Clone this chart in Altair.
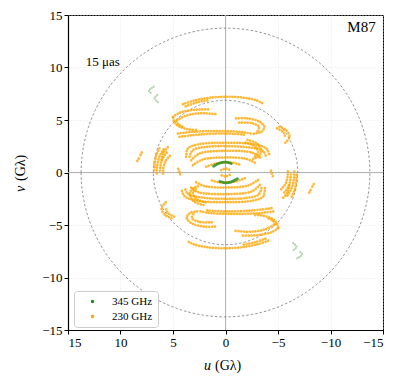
import altair as alt
import pandas as pd
import numpy as np

# ---------------- data (Gλ) ----------------
TICKS = [-15, -10, -5, 0, 5, 10, 15]
BANDS = ["345 GHz", "230 GHz"]
COLORS = ["#1f8a1f", "#FFA500"]

# upper-half uv tracks; each is also drawn with its conjugate (-u, -v)
TRACKS_230 = {
    "top1": [(4.06, 6.5), (3.0, 6.85), (1.8, 7.08), (0.5, 7.2), (-0.8, 7.2), (-2.0, 7.08), (-3.0, 6.85), (-3.5, 6.6)],
    "top2": [(3.8, 6.3), (2.7, 6.68), (1.5, 6.9)],
    "ul1": [(5.0, 5.3), (4.4, 5.68), (3.5, 5.9), (2.5, 6.0), (1.5, 6.0)],
    "ul2": [(5.0, 5.22), (4.85, 4.75), (4.4, 4.38), (3.6, 4.12), (2.8, 4.05)],
    "ul3": [(4.6, 5.0), (3.8, 5.4), (2.9, 5.6), (2.0, 5.65), (0.9, 5.55)],
    "ul4": [(4.7, 4.9), (4.45, 4.55), (3.9, 4.3)],
    "ur1": [(-1.0, 5.15), (-2.1, 5.15), (-3.2, 4.85), (-3.7, 4.35), (-3.4, 3.87), (-2.6, 3.7)],
    "ur2": [(-1.3, 4.75), (-2.5, 4.7), (-3.2, 4.35), (-3.05, 3.95)],
    "ur3": [(-2.1, 3.1), (-3.05, 2.72), (-3.4, 1.97), (-3.08, 1.5), (-2.45, 1.24)],
    "ur4": [(-1.9, 2.85), (-2.8, 2.5), (-3.1, 1.9), (-2.8, 1.52)],
    "right1": [(-5.14, 4.35), (-5.78, 4.03), (-6.1, 3.4), (-5.62, 2.76)],
    "right2": [(-4.9, 4.2), (-5.5, 3.85), (-5.7, 3.3)],
    "mid1": [(4.54, 3.71), (3.11, 3.87), (1.52, 3.94), (0.0, 3.94), (-1.65, 3.84), (-2.6, 3.65)],
    "mid2": [(4.38, 3.4), (2.48, 3.62), (0.0, 3.71), (-1.97, 3.59)],
    "cup1": [(3.75, 1.49), (3.59, 2.29), (2.48, 2.70), (0.0, 2.83), (-2.6, 2.70), (-3.87, 2.29), (-4.19, 1.65)],
    "cup2": [(3.43, 1.49), (3.11, 2.13), (1.84, 2.44), (0.0, 2.51), (-2.29, 2.38), (-3.56, 2.06), (-3.87, 1.49)],
    "cup3": [(3.27, 1.17), (2.48, 1.81), (0.0, 2.06), (-2.6, 1.87), (-3.4, 1.33)],
    "in1": [(3.11, 0.70), (2.16, 1.24), (0.0, 1.43), (-1.97, 1.30), (-2.92, 0.86)],
    "in2": [(1.84, 0.54), (0.89, 0.86), (-0.7, 0.92), (-1.49, 0.70)],
    "c0": [(0.41, 0.22), (0.0, 0.38), (-0.44, 0.22)],
    "lp": [(4.5, 0.35), (4.38, 0.0), (4.3, -0.3)],
    "lc1": [(6.3, 2.3), (6.6, 1.6), (6.75, 0.8), (6.8, 0.0)],
    "lc2": [(5.9, 2.2), (6.3, 1.5), (6.5, 0.7), (6.55, -0.1)],
    "lc3": [(5.6, 1.9), (6.0, 1.3), (6.2, 0.6), (6.25, 0.0)],
    "lc4": [(5.3, 1.6), (5.7, 1.1), (5.9, 0.5), (5.95, -0.2)],
    "lc5": [(5.5, 2.4), (5.9, 1.9), (6.1, 1.2)],
    "dash1": [(8.41, 1.1), (8.22, 1.41)],
    "dash2": [(8.1, 1.67), (7.9, 2.05)],
}
TRACKS_345 = {
    "g_in": [(1.14, 0.6), (0.57, 0.89), (0.0, 0.98), (-0.54, 0.86)],
}
TRACKS_345_FAINT = {
    "g_out1": [(6.83, 8.17), (7.3, 7.79), (6.98, 7.48)],
    "g_out2": [(6.5, 7.38), (6.76, 7.07), (6.29, 6.59)],
}

CIRCLE_UAS = [15, 30]          # fringe spacings drawn as dashed circles
LABELS_LEFT = [("15 μas", 13.3, 10.5)]
LABELS_RIGHT = [("M87", -14.3, 13.9)]


def build(tracks, band):
    rows = []
    for name, pts in tracks.items():
        for sign, suffix in ((1, ""), (-1, "_c")):
            for i, (u, v) in enumerate(pts):
                rows.append({"track": name + suffix, "band": band, "i": i,
                             "u": sign * u, "v": sign * v})
    return pd.DataFrame(rows)


df230 = build(TRACKS_230, "230 GHz")
df345 = build(TRACKS_345, "345 GHz")
df345f = build(TRACKS_345_FAINT, "345 GHz")

# reference circles: radius = 1/θ in Gλ
crow = []
t = np.linspace(0, 2 * np.pi, 241)
for uas in CIRCLE_UAS:
    r = 1.0 / (uas * 1e-6 / 3600 * np.pi / 180) / 1e9
    for k, a in enumerate(t):
        crow.append({"c": str(uas), "k": k, "u": r * np.cos(a), "v": r * np.sin(a)})
dfc = pd.DataFrame(crow)

labL = pd.DataFrame(LABELS_LEFT, columns=["text", "u", "v"])
labR = pd.DataFrame(LABELS_RIGHT, columns=["text", "u", "v"])
legdf = pd.DataFrame({"band": BANDS, "u": [0.0, 0.0], "v": [0.0, 0.0]})

FONT = "Liberation Serif"
W = H = 315
xs = alt.Scale(domain=[15, -15], nice=False, zero=False)
ys = alt.Scale(domain=[-15, 15], nice=False, zero=False)
cs = alt.Scale(domain=BANDS, range=COLORS)

X = alt.X("u:Q", scale=xs, axis=alt.Axis(values=TICKS, title=None, labelFont=FONT))
Y = alt.Y("v:Q", scale=ys, axis=alt.Axis(values=TICKS, title=None, labelFont=FONT))

zero_v = alt.Chart(pd.DataFrame({"u": [0]})).mark_rule(color="#b5b5b5", strokeWidth=1).encode(x=alt.X("u:Q", scale=xs))
zero_h = alt.Chart(pd.DataFrame({"v": [0]})).mark_rule(color="#b5b5b5", strokeWidth=1).encode(y=alt.Y("v:Q", scale=ys))

circles = alt.Chart(dfc).mark_line(color="#7a7a7a", strokeWidth=0.8, strokeDash=[2.5, 2]).encode(
    x=X, y=Y, detail="c:N", order="k:Q")

COLOR = alt.Color("band:N", scale=cs, sort=BANDS, legend=alt.Legend(
    title=None, orient="none", legendX=6, legendY=276, padding=5, fillColor="white",
    strokeColor="#cccccc", cornerRadius=3, symbolType="circle", symbolSize=12,
    symbolStrokeWidth=0, symbolOpacity=1,
    labelFont=FONT, labelFontSize=11, labelOffset=14, rowPadding=3,
    symbolOffset=8))

lines230 = alt.Chart(df230).mark_line(
    strokeWidth=2.7, strokeDash=[0.1, 2.7], strokeCap="round", opacity=0.78, interpolate="catmull-rom"
).encode(x=X, y=Y, detail="track:N", order="i:Q", color=COLOR)

lines345f = alt.Chart(df345f).mark_line(
    strokeWidth=2.2, strokeDash=[0.1, 2.2], strokeCap="round", opacity=0.35, interpolate="catmull-rom"
).encode(x=X, y=Y, detail="track:N", order="i:Q", color=COLOR)

lines345 = alt.Chart(df345).mark_line(
    strokeWidth=2.8, strokeCap="round", opacity=0.8, interpolate="catmull-rom"
).encode(x=X, y=Y, detail="track:N", order="i:Q", color=COLOR)

# invisible circles only to give the legend filled dot symbols
legend_layer = alt.Chart(legdf).mark_circle(size=0.01, opacity=0).encode(
    x=X, y=Y, color=COLOR)

textsL = alt.Chart(labL).mark_text(font=FONT, fontSize=13, align="left", baseline="middle").encode(
    x=alt.X("u:Q", scale=xs), y=alt.Y("v:Q", scale=ys), text="text:N")
textsR = alt.Chart(labR).mark_text(font=FONT, fontSize=15, align="right", baseline="middle").encode(
    x=alt.X("u:Q", scale=xs), y=alt.Y("v:Q", scale=ys), text="text:N")

# axis titles with italic variable letter
one = pd.DataFrame({"k": [0]})
xt1 = alt.Chart(one).mark_text(text="u", font=FONT, fontSize=14, fontStyle="italic", align="left",
                               baseline="middle").encode(x=alt.value(136), y=alt.value(H + 36))
xt2 = alt.Chart(one).mark_text(text="(Gλ)", font=FONT, fontSize=14, align="left",
                               baseline="middle").encode(x=alt.value(147), y=alt.value(H + 36))
yt1 = alt.Chart(one).mark_text(text="v", font=FONT, fontSize=14, fontStyle="italic", align="left",
                               baseline="middle", angle=270).encode(x=alt.value(-47), y=alt.value(177))
yt2 = alt.Chart(one).mark_text(text="(Gλ)", font=FONT, fontSize=14, align="left",
                               baseline="middle", angle=270).encode(x=alt.value(-47), y=alt.value(166))

chart = alt.layer(zero_v, zero_h, circles, lines230, lines345f, lines345, legend_layer,
                  textsL, textsR, xt1, xt2, yt1, yt2).properties(
    width=W, height=H,
    autosize=alt.AutoSizeParams(type="none"),
    padding={"left": 60, "top": 7, "right": 17, "bottom": 46},
).configure_view(stroke="black", strokeWidth=1).configure_axis(
    grid=True, gridColor="#e0e0e0", gridDash=[1, 2], gridWidth=0.7,
    domainColor="black", domainWidth=1.2, tickColor="black", tickSize=4,
    labelFont=FONT, labelFontSize=13, labelColor="black", labelPadding=2,
).configure_legend(labelFont=FONT, symbolType="circle")

chart.save("out.html", embed_options={"renderer": "svg", "actions": False})
